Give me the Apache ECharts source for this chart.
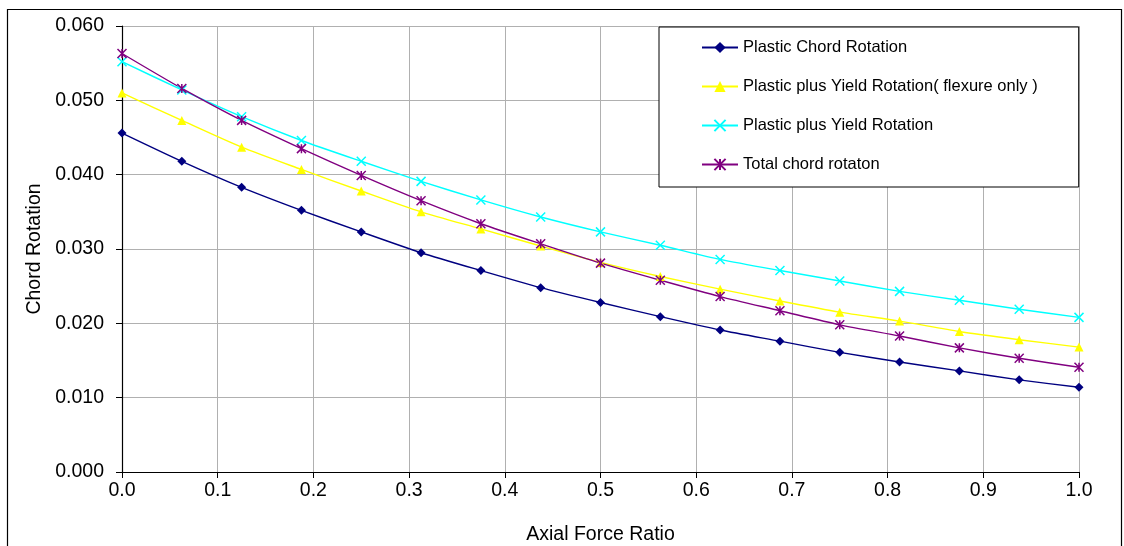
<!DOCTYPE html>
<html>
<head>
<meta charset="utf-8">
<script src="https://cdn.jsdelivr.net/npm/echarts@6/dist/echarts.min.js"></script>
<style>
html,body{margin:0;padding:0;background:#fff;}
#c{width:1124px;height:546px;}
</style>
</head>
<body>
<div id="c"></div>
<script>
const axialForceRatio = [0, 0.0625, 0.125, 0.1875, 0.25, 0.3125, 0.375, 0.4375, 0.5, 0.5625, 0.625, 0.6875, 0.75, 0.8125, 0.875, 0.9375, 1.0];
const plasticChord = [0.0456, 0.0418, 0.0383, 0.0352, 0.0323, 0.0295, 0.0271, 0.0248, 0.0228, 0.0209, 0.0191, 0.0176, 0.0161, 0.0148, 0.0136, 0.0124, 0.0114];
const plasticYieldFlexure = [0.0510, 0.0473, 0.0437, 0.0407, 0.0378, 0.0350, 0.0327, 0.0304, 0.0282, 0.0263, 0.0246, 0.0230, 0.0215, 0.0203, 0.0189, 0.0178, 0.0168];
const plasticYield = [0.0552, 0.0514, 0.0478, 0.0446, 0.0418, 0.0391, 0.0366, 0.0343, 0.0323, 0.0305, 0.0286, 0.0271, 0.0257, 0.0243, 0.0231, 0.0219, 0.0208];
const totalChord = [0.0563, 0.0516, 0.0473, 0.0435, 0.0399, 0.0365, 0.0334, 0.0307, 0.0281, 0.0258, 0.0236, 0.0217, 0.0198, 0.0183, 0.0167, 0.0153, 0.0141];
const seriesNames = ['Plastic Chord Rotation', 'Plastic plus Yield Rotation( flexure only )', 'Plastic plus Yield Rotation', 'Total chord rotaton'];

function pairs(arr){ return axialForceRatio.map((x,i)=>[x, arr[i]]); }

const FONT = 'Liberation Sans, Arial, sans-serif';
const crossPath = 'path://M0,0L10,10M10,0L0,10';
const starPath = 'path://M5,0L5,10M0,0L10,10M10,0L0,10';

function mkSeries(name, data, color, symbol, size, stroked){
  return {
    name: name, type: 'line', data: pairs(data), smooth: 0.25,
    symbol: symbol, symbolSize: size, showSymbol: true,
    lineStyle: {color: color, width: 1.4},
    itemStyle: stroked ? {color: 'rgba(0,0,0,0)', borderColor: color, borderWidth: 1.5} : {color: color, borderWidth: 0},
    emphasis: {disabled: true},
    animation: false
  };
}

const chart = echarts.init(document.getElementById('c'), null, {renderer: 'canvas'});
chart.setOption({
  animation: false,
  backgroundColor: '#fff',
  graphic: [{
    type: 'rect', left: 5, top: 7, shape: {width: 1114, height: 560},
    style: {fill: 'none', stroke: '#000', lineWidth: 1.2}, silent: true, z: -10
  }],
  grid: {left: 122, right: 45, top: 26, bottom: 74, outerBoundsMode: 'none', containLabel: false},
  legend: {
    orient: 'vertical', left: 659, top: 27,
    padding: [12, 41, 14, 42], itemGap: 22, itemWidth: 36, itemHeight: 14,
    backgroundColor: '#fff', borderColor: '#000', borderWidth: 1,
    textStyle: {fontFamily: FONT, fontSize: 16.5, color: '#000'},
    data: seriesNames,
    z: 10
  },
  xAxis: {
    type: 'value', min: 0, max: 1, interval: 0.1,
    name: 'Axial Force Ratio', nameLocation: 'middle', nameGap: 53,
    nameTextStyle: {fontFamily: FONT, fontSize: 19.5, color: '#000'},
    axisLine: {lineStyle: {color: '#000', width: 1.2}},
    axisTick: {show: true, length: 6, lineStyle: {color: '#000'}},
    axisLabel: {fontFamily: FONT, fontSize: 19.5, color: '#000', margin: 9, formatter: v => v.toFixed(1)},
    splitLine: {show: true, lineStyle: {color: '#b0b0b0', width: 1}}
  },
  yAxis: {
    type: 'value', min: 0, max: 0.06, interval: 0.01,
    name: 'Chord Rotation', nameLocation: 'middle', nameGap: 75,
    nameTextStyle: {fontFamily: FONT, fontSize: 19.5, color: '#000'},
    axisLine: {show: true, lineStyle: {color: '#000', width: 1.2}},
    axisTick: {show: true, length: 6, lineStyle: {color: '#000'}},
    axisLabel: {fontFamily: FONT, fontSize: 19.5, color: '#000', margin: 18, formatter: v => v.toFixed(3)},
    splitLine: {show: true, lineStyle: {color: '#b0b0b0', width: 1}}
  },
  series: [
    mkSeries(seriesNames[0], plasticChord, '#000080', 'diamond', 9, false),
    mkSeries(seriesNames[1], plasticYieldFlexure, '#FFFF00', 'triangle', 9, false),
    mkSeries(seriesNames[2], plasticYield, '#00FFFF', crossPath, 9, true),
    mkSeries(seriesNames[3], totalChord, '#800080', starPath, 9, true)
  ]
});
</script>
</body>
</html>
